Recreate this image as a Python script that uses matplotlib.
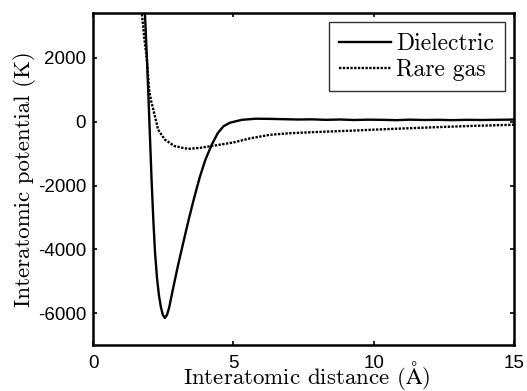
"""Interatomic potential curves: dielectric vs rare gas model."""

import matplotlib

matplotlib.use("Agg")

import matplotlib.pyplot as plt

# Dielectric model (distance in angstrom, potential in K)
dielectric_r = [
    1.82, 1.87, 1.92, 1.97, 2.03, 2.09, 2.15, 2.21, 2.28, 2.35, 2.42, 2.49,
    2.56, 2.64, 2.72, 2.80, 2.92, 3.03, 3.20, 3.40, 3.60, 3.80, 4.00, 4.23,
    4.45, 4.65, 4.88, 5.30, 5.80, 6.30, 6.80, 7.30, 7.80, 8.30, 8.80, 9.30,
    9.80, 10.3, 10.8, 11.3, 11.8, 12.3, 12.8, 13.3, 13.8, 14.3, 14.8, 15.0,
]
dielectric_v = [
    4000, 3000, 2000, 900, -500, -1900, -3100, -4100, -4900, -5450, -5820, -6060,
    -6150, -6050, -5800, -5450, -4950, -4500, -3850, -3100, -2400, -1750, -1200, -720,
    -350, -140, -30, 60, 95, 90, 80, 70, 75, 60, 70, 55,
    65, 60, 50, 65, 55, 60, 50, 60, 55, 60, 65, 70,
]

# Rare gas model
rare_gas_r = [
    1.70, 1.74, 1.83, 1.92, 2.00, 2.07, 2.15, 2.32, 2.56, 2.90, 3.20, 3.40,
    3.80, 4.23, 5.00, 5.60, 6.30, 7.00, 8.00, 9.20, 10.5, 12.25, 13.5, 15.0,
]
rare_gas_v = [
    4200, 3400, 2600, 1950, 1000, 650, 380, -250, -560, -760, -820, -850,
    -820, -760, -650, -520, -410, -360, -320, -280, -230, -170, -130, -95,
]

x_ticks = [0, 5, 10, 15]
y_ticks = [-6000, -4000, -2000, 0, 2000]

plt.rcParams["mathtext.fontset"] = "cm"
plt.rcParams["axes.unicode_minus"] = False

serif = ["cmr10", "DejaVu Serif"]

fig = plt.figure(figsize=(5.27, 3.91), dpi=100)
ax = fig.add_axes([0.1765, 0.1176, 0.7988, 0.8492])

ax.plot(dielectric_r, dielectric_v, color="black", linewidth=1.7,
        label="Dielectric")
ax.plot(rare_gas_r, rare_gas_v, color="black", linewidth=1.7,
        linestyle=(0, (1.0, 0.6)), label="Rare gas")

ax.set_xlim(0, 15)
ax.set_ylim(-7000, 3410)
ax.set_xticks(x_ticks)
ax.set_yticks(y_ticks)
ax.set_xticklabels([str(t) for t in x_ticks], fontfamily="Liberation Sans",
                   fontsize=13.5)
ax.set_yticklabels([str(t) for t in y_ticks], fontfamily="Liberation Sans",
                   fontsize=13.5)
ax.tick_params(direction="in", length=3, width=1.2, top=True, right=True)
ax.tick_params(axis="x", pad=7)
ax.tick_params(axis="y", pad=5)
for spine in ax.spines.values():
    spine.set_linewidth(1.8)

ax.set_xlabel(r"Interatomic distance ($\mathrm{\AA}$)", fontfamily=serif,
              fontsize=16.5, va="baseline")
ax.xaxis.set_label_coords(0.507, -0.117)
ax.set_ylabel("Interatomic potential (K)", fontfamily=serif, fontsize=16.5,
              labelpad=1)

leg = ax.legend(loc="upper right", prop={"family": serif, "size": 17},
                frameon=True, fancybox=False, edgecolor="black",
                handlelength=2.2, handletextpad=0.2, borderpad=0.45,
                labelspacing=0.15, borderaxespad=0.4)
leg.get_frame().set_linewidth(1.0)

fig.savefig("out.png", dpi=100)
